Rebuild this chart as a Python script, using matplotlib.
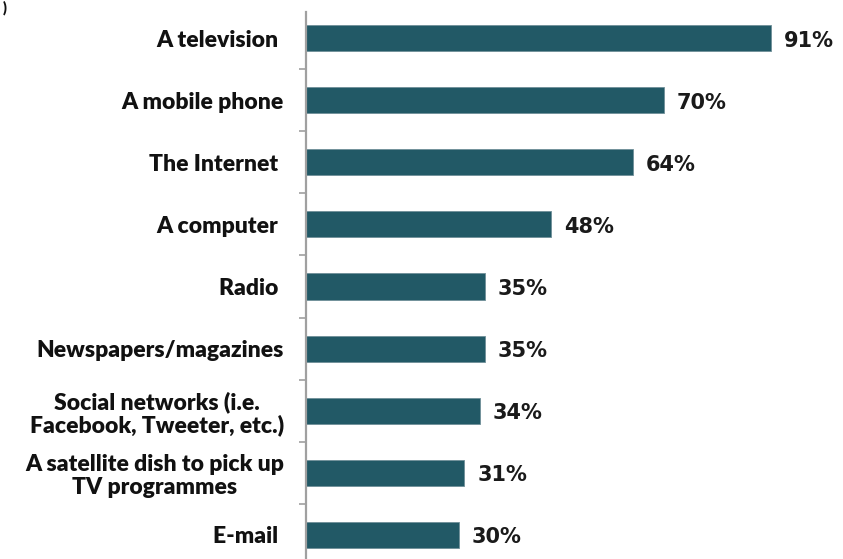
import matplotlib.pyplot as plt
import numpy as np

# share of respondents owning / using each medium
categories = [
    "A television ",
    "A mobile phone",
    "The Internet ",
    "A computer ",
    "Radio ",
    "Newspapers/magazines",
    "Social networks (i.e.\nFacebook, Tweeter, etc.)",
    "A satellite dish to pick up\nTV programmes",
    "E-mail ",
]
values = [91, 70, 64, 48, 35, 35, 34, 31, 30]

bar_color = "#225966"
axis_color = "#a0a0a0"

fig = plt.figure(figsize=(8.43, 5.59), dpi=100)
ax = fig.add_axes([0.363, -0.0125, 0.606, 0.991])

pos = np.arange(len(categories))
ax.barh(pos, values, height=0.42, color=bar_color, edgecolor="#6f8f98", linewidth=0.6)

for y, v in zip(pos, values):
    ax.text(v + 2.5, y + 0.04, f"{v}%", va="center", ha="left", fontsize=15,
            fontweight="bold", family="DejaVu Sans", color="#1a1a1a")

ax.set_xlim(0, 100)
ax.set_ylim(8.5, -0.42)

ax.set_yticks(pos)
ax.set_yticklabels(categories, fontsize=16.5, fontweight="heavy", family="Lato",
                   color="#111111", multialignment="center", linespacing=1.1)
ax.tick_params(axis="y", which="major", length=0, pad=16)
ax.set_yticks(pos[:-1] + 0.5, minor=True)
ax.tick_params(axis="y", which="minor", length=5, width=1.2, color=axis_color)

ax.set_xticks([])
for side in ["top", "right", "bottom"]:
    ax.spines[side].set_visible(False)
ax.spines["left"].set_color(axis_color)
ax.spines["left"].set_linewidth(1.6)

# tail of the title at the top-left corner
fig.text(0.003, 0.999, ")", fontsize=10, fontweight="heavy", family="Lato",
         ha="left", va="top", color="#111111")

fig.savefig("out.png", dpi=100)
